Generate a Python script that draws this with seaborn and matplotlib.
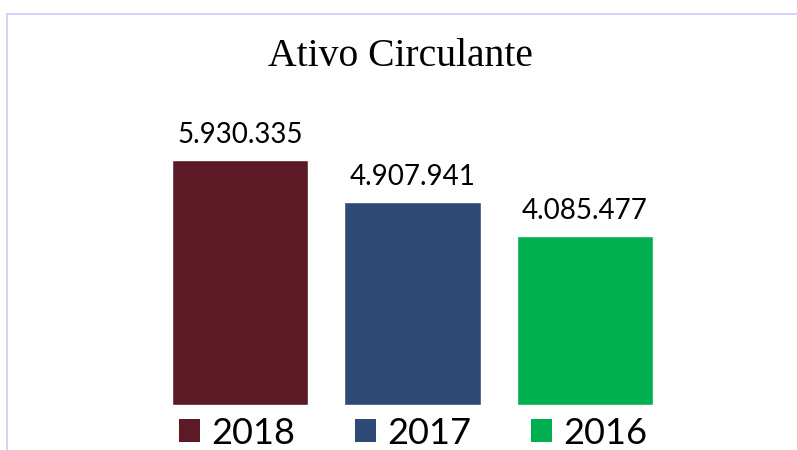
import matplotlib
matplotlib.use("Agg")
import matplotlib.pyplot as plt
import seaborn as sns
import pandas as pd
from matplotlib.lines import Line2D
from matplotlib.patches import Patch

# chart data
years = ["2018", "2017", "2016"]
values = [5930335, 4907941, 4085477]
value_labels = ["5.930.335", "4.907.941", "4.085.477"]
colors = ["#5C1A27", "#2F4A77", "#00B050"]

sns.set_style("white")
plt.rcParams["font.family"] = ["Lato", "DejaVu Sans"]
plt.rcParams["text.color"] = "black"

df = pd.DataFrame({"ano": years, "valor": values})

fig = plt.figure(figsize=(7.97, 4.5), dpi=100)
ax = fig.add_axes([153.75 / 797, 45 / 450, 517.5 / 797, 315 / 450])

sns.barplot(data=df, x="ano", y="valor", hue="ano", palette=colors,
            width=0.79, saturation=1, legend=False, ax=ax)

ax.set_xlim(-0.5, 2.5)
ax.set_ylim(0, 315 / (245 / 5930335))

for container, lab in zip(ax.containers, value_labels):
    ax.bar_label(container, labels=[lab], padding=9, fontsize=20, color="black")

ax.set_xlabel("")
ax.set_ylabel("")
ax.set_xticks([])
ax.set_yticks([])
sns.despine(ax=ax, left=True, bottom=True)

fig.text(400 / 797, 1 - 57 / 450, "Ativo Circulante", ha="center", va="center",
         fontsize=28.5, color="black", family=["Liberation Serif", "DejaVu Serif"])

handles = [Patch(facecolor=c, edgecolor="none") for c in colors]
fig.legend(handles, years, loc="center", bbox_to_anchor=(413 / 797, 1 - 433 / 450),
           ncol=3, frameon=False, fontsize=26, handlelength=0.6, handleheight=0.6,
           handletextpad=0.3, columnspacing=1.65, borderpad=0)

# thin frame lines (top and left)
fig.add_artist(Line2D([7 / 797, 1], [1 - 14 / 450, 1 - 14 / 450],
                      color="#C8C8FF", lw=1.2, transform=fig.transFigure))
fig.add_artist(Line2D([7 / 797, 7 / 797], [0, 1 - 14 / 450],
                      color="#C8C8FF", lw=1.2, transform=fig.transFigure))

fig.savefig("out.png", dpi=100)
